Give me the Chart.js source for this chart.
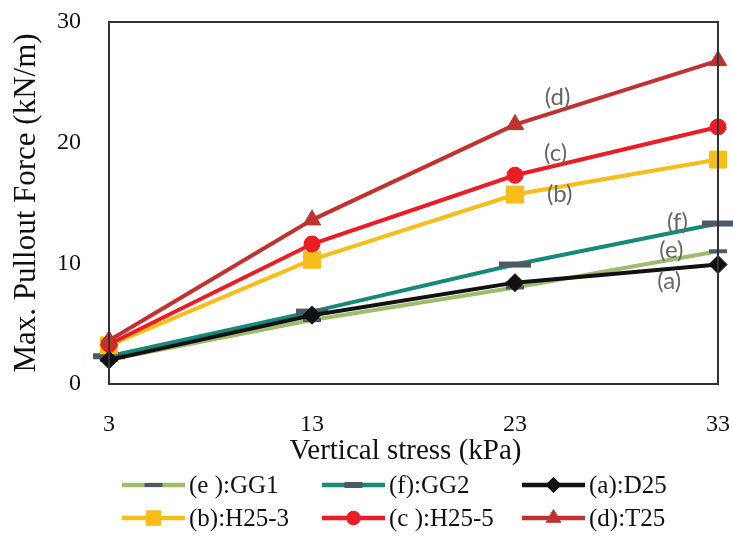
<!DOCTYPE html>
<html>
<head>
<meta charset="utf-8">
<script src="https://cdn.jsdelivr.net/npm/chart.js@4"></script>
<style>
  html, body { margin: 0; padding: 0; background: #fff; }
  #wrap { width: 733px; height: 540px; }
</style>
</head>
<body>
<div id="wrap"><canvas id="myChart" width="733" height="540"></canvas></div>
<script>
// vertical stress (kPa) on the x axis
const stress = ['3', '13', '23', '33'];
const yTicks = [0, 10, 20, 30];

// max pullout force (kN/m) per sample
const gg1 = [2.0, 5.3, 8.0, 11.0];
const gg2 = [2.3, 6.0, 9.9, 13.3];
const d25 = [2.0, 5.7, 8.4, 9.9];
const h25_3 = [3.2, 10.3, 15.7, 18.6];
const h25_5 = [3.3, 11.6, 17.3, 21.3];
const t25 = [3.6, 13.6, 21.5, 26.8];

const seriesNames = ['(e ):GG1', '(f):GG2', '(a):D25', '(b):H25-3', '(c ):H25-5', '(d):T25'];

// the grey (a)..(f) tags next to the lines, in data units (kPa, kN/m)
const tagText = ['(d)', '(c)', '(b)', '(f)', '(e)', '(a)'];
const tagStress = [25.1, 25.0, 25.2, 31.0, 30.7, 30.6];
const tagForce = [23.8, 19.1, 15.7, 13.4, 11.1, 8.5];

const serif = "'Liberation Serif', 'Times New Roman', serif";
const slate = '#4d5868';

function series(label, data, color, style, extra) {
    return Object.assign({
        label: label,
        data: data,
        borderColor: color,
        backgroundColor: color,
        borderWidth: 4,
        pointStyle: style,
        pointBackgroundColor: color,
        pointBorderColor: color,
        pointBorderWidth: 1,
        pointRadius: 8,
        pointHoverRadius: 8,
        tension: 0,
        fill: false
    }, extra || {});
}

const datasets = [
    series(seriesNames[0], gg1, '#9fbb6e', 'line', { pointBorderColor: slate, pointBorderWidth: 4, pointRadius: 9, order: 5 }),
    series(seriesNames[1], gg2, '#17897a', 'line', { pointBorderColor: slate, pointBorderWidth: 6, pointRadius: 16, order: 4 }),
    series(seriesNames[2], d25, '#111111', 'rectRot', { pointRadius: 9, order: 0 }),
    series(seriesNames[3], h25_3, '#f9bd19', 'rect', { pointRadius: 12, order: 3 }),
    series(seriesNames[4], h25_5, '#ed1c24', 'circle', { pointRadius: 8, order: 2 }),
    series(seriesNames[5], t25, '#c0322f', 'triangle', { pointRadius: 10, order: 1 })
];

// frame round the plot area
const framePlugin = {
    id: 'frame',
    afterDatasetsDraw(chart) {
        const a = chart.chartArea;
        const ctx = chart.ctx;
        ctx.save();
        ctx.strokeStyle = '#333333';
        ctx.lineWidth = 2;
        ctx.strokeRect(a.left, a.top, a.right - a.left, a.bottom - a.top);
        ctx.restore();
    }
};

// grey tags, x title and the two-row legend
const extrasPlugin = {
    id: 'extras',
    afterDraw(chart) {
        const ctx = chart.ctx;
        const xs = chart.scales.x;
        const ys = chart.scales.y;
        const a = chart.chartArea;
        ctx.save();

        ctx.fillStyle = '#666666';
        ctx.font = "24px Lato, 'Open Sans', sans-serif";
        ctx.textAlign = 'center';
        ctx.textBaseline = 'middle';
        tagText.forEach((t, i) => {
            const px = xs.getPixelForValue((tagStress[i] - 3) / 10);
            const py = ys.getPixelForValue(tagForce[i]);
            ctx.fillText(t, px, py);
        });

        ctx.fillStyle = '#111111';
        ctx.font = '29px ' + serif;
        ctx.fillText('Vertical stress (kPa)', (a.left + a.right) / 2 - 8, 451);

        const colX = [122, 322, 522];
        const rowY = [485, 518];
        const lineLen = 63;
        ctx.font = '25px ' + serif;
        ctx.textAlign = 'left';
        chart.data.datasets.forEach((ds, i) => {
            const x = colX[i % 3];
            const y = rowY[Math.floor(i / 3)];
            ctx.strokeStyle = ds.borderColor;
            ctx.lineWidth = 4.5;
            ctx.beginPath();
            ctx.moveTo(x, y);
            ctx.lineTo(x + lineLen, y);
            ctx.stroke();

            ctx.fillStyle = ds.pointBackgroundColor;
            ctx.strokeStyle = ds.pointBorderColor;
            ctx.lineWidth = ds.pointBorderWidth;
            const r = ds.pointStyle === 'line' ? 9 : ds.pointRadius * 0.85;
            Chart.helpers.drawPoint(ctx, {
                pointStyle: ds.pointStyle,
                radius: r,
                rotation: 0,
                borderWidth: ds.pointBorderWidth
            }, x + lineLen / 2, y);

            ctx.fillStyle = '#111111';
            ctx.fillText(ds.label, x + lineLen + 4, y + 1);
        });
        ctx.restore();
    }
};

const chartCanvas = document.getElementById('myChart').getContext('2d');
const myChart = new Chart(chartCanvas, {
    type: 'line',
    data: { labels: stress, datasets: datasets },
    plugins: [framePlugin, extrasPlugin],
    options: {
        responsive: false,
        animation: false,
        events: [],
        layout: { autoPadding: false, padding: { top: 22, right: 15, left: 0, bottom: 0 } },
        plugins: {
            legend: { display: false },
            tooltip: { enabled: false }
        },
        scales: {
            x: {
                type: 'category',
                offset: false,
                grid: { display: false, drawTicks: false },
                border: { display: false },
                ticks: {
                    color: '#111111',
                    padding: 26,
                    maxRotation: 0,
                    font: { family: serif, size: 24 }
                },
                afterFit(scale) {
                    scale.height = 156;
                    scale.paddingLeft = 0;
                    scale.paddingRight = 0;
                }
            },
            y: {
                min: 0,
                max: 30,
                afterBuildTicks(scale) { scale.ticks = yTicks.map(v => ({ value: v })); },
                grid: { display: false, drawTicks: false },
                border: { display: false },
                ticks: {
                    color: '#111111',
                    padding: 28,
                    font: { family: serif, size: 24 }
                },
                title: {
                    display: true,
                    text: 'Max. Pullout Force (kN/m)',
                    color: '#111111',
                    padding: { top: 8, bottom: 0 },
                    font: { family: serif, size: 31 }
                },
                afterFit(scale) {
                    scale.width = 109;
                    scale.paddingTop = 0;
                    scale.paddingBottom = 0;
                }
            }
        }
    }
});
</script>
</body>
</html>
